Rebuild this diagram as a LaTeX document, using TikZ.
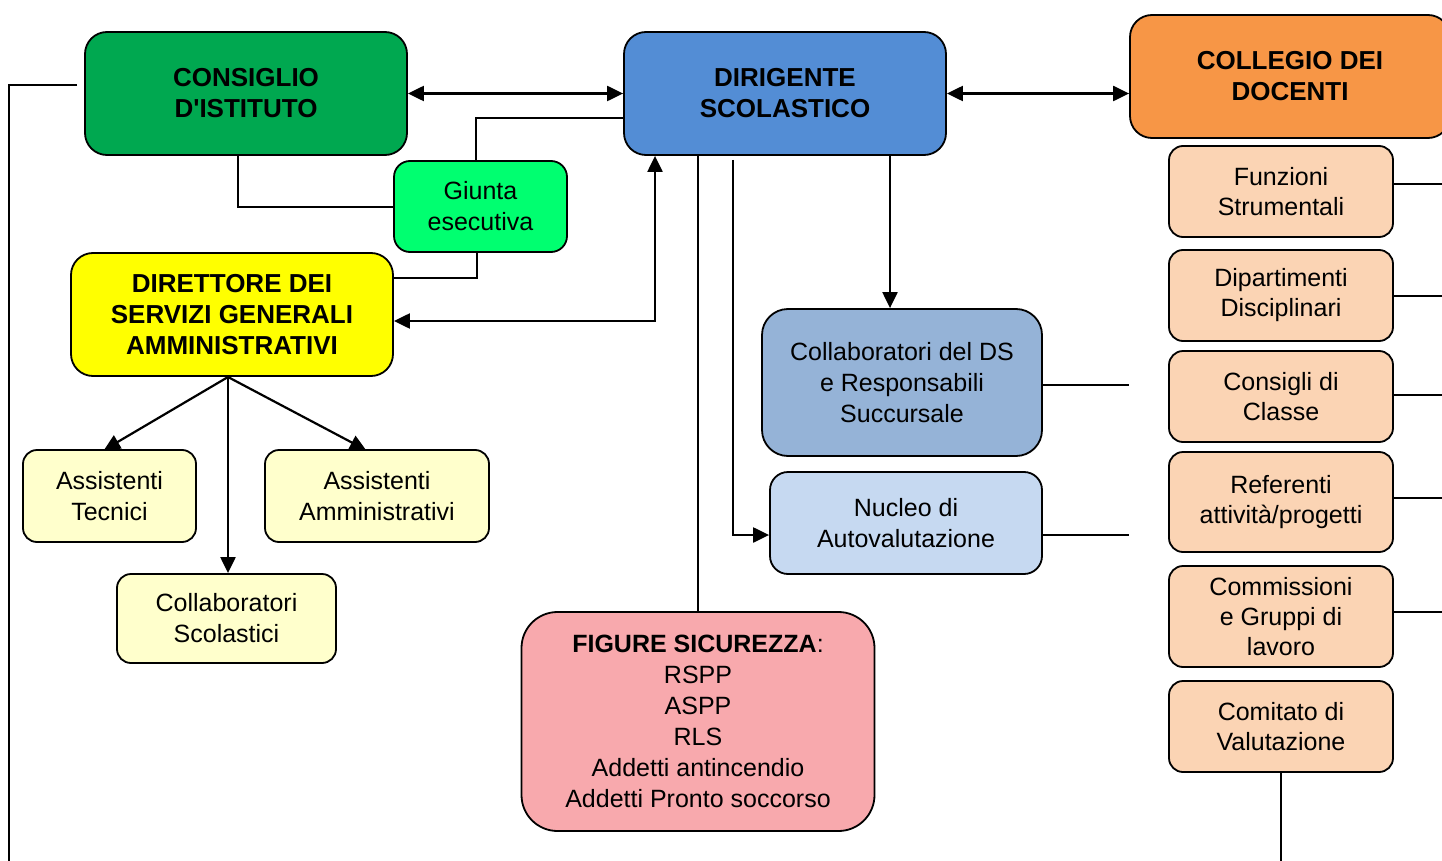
\documentclass[tikz,border=0pt]{standalone}
\usepackage{fontspec}
\newfontfamily\lib{Liberation Sans}
\usetikzlibrary{arrows.meta}
\definecolor{cgreen}{RGB}{0,168,80}
\definecolor{cblue}{RGB}{83,141,213}
\definecolor{corange}{RGB}{247,150,70}
\definecolor{cgiunta}{RGB}{0,255,112}
\definecolor{cyellow}{RGB}{255,255,0}
\definecolor{cpale}{RGB}{255,255,204}
\definecolor{cmblue}{RGB}{149,179,215}
\definecolor{clblue}{RGB}{198,217,241}
\definecolor{cpink}{RGB}{248,169,173}
\definecolor{cpeach}{RGB}{251,212,180}
\begin{document}
\begin{tikzpicture}[x=1pt,y=-1pt,
 box/.style={draw=black, line width=1.8pt, align=center, inner sep=0pt, font=\lib\fontsize{25}{31}\selectfont, execute at begin node={\rule{0pt}{26pt}}},
 title/.style={box, font=\lib\fontsize{26}{31}\selectfont\bfseries},
 peach/.style={box, fill=cpeach, minimum width=224pt, rounded corners=14pt, font=\lib\fontsize{25}{30}\selectfont},
 conn/.style={line width=2.2pt},
 thinl/.style={line width=1.8pt},
 arr/.style={conn, -{Triangle[length=16pt,width=15pt]}},
 darr/.style={conn, {Triangle[length=16pt,width=15pt]}-{Triangle[length=16pt,width=15pt]}},
]
\useasboundingbox (0,0) rectangle (1442,861);

% main boxes
\node[title, fill=cgreen, minimum width=322pt, minimum height=123pt, rounded corners=22pt] (ci) at (246,93.5) {CONSIGLIO\\D'ISTITUTO};
\node[title, fill=cblue, minimum width=322pt, minimum height=123pt, rounded corners=22pt] (ds) at (785,93.5) {DIRIGENTE\\SCOLASTICO};
\node[title, fill=corange, minimum width=320pt, minimum height=123pt, rounded corners=22pt] (col) at (1290,76.5) {COLLEGIO DEI\\DOCENTI};
\node[box, fill=cgiunta, minimum width=173pt, minimum height=91pt, rounded corners=16pt] (gi) at (480.5,206.5) {Giunta\\esecutiva};
\node[title, fill=cyellow, minimum width=322pt, minimum height=123pt, rounded corners=22pt] (dsga) at (232,314.5) {DIRETTORE DEI\\SERVIZI GENERALI\\AMMINISTRATIVI};

% DSGA children
\node[box, fill=cpale, minimum width=173pt, minimum height=92pt, rounded corners=14pt] (tec) at (109.5,496) {Assistenti\\Tecnici};
\node[box, fill=cpale, minimum width=224pt, minimum height=92pt, rounded corners=14pt] (amm) at (377,496) {Assistenti\\Amministrativi};
\node[box, fill=cpale, minimum width=219pt, minimum height=89pt, rounded corners=14pt] (cs) at (226.5,618.5) {Collaboratori\\Scolastici};

% DS children
\node[box, fill=cmblue, minimum width=280pt, minimum height=147pt, rounded corners=26pt] (cds) at (902,382.5) {Collaboratori del DS\\e Responsabili\\Succursale};
\node[box, fill=clblue, minimum width=272pt, minimum height=102pt, rounded corners=18pt] (nuc) at (906,523) {Nucleo di\\Autovalutazione};
\node[box, fill=cpink, minimum width=353pt, minimum height=219pt, rounded corners=36pt] (fig) at (698,721.5) {\textbf{FIGURE SICUREZZA}:\\RSPP\\ASPP\\RLS\\Addetti antincendio\\Addetti Pronto soccorso};

% right column
\node[peach, minimum height=91pt] (fs) at (1281,191.5) {Funzioni\\Strumentali};
\node[peach, minimum height=91pt] (dd) at (1281,295.5) {Dipartimenti\\Disciplinari};
\node[peach, minimum height=91pt] (cc) at (1281,396.5) {Consigli di\\Classe};
\node[peach, minimum height=100pt] (ra) at (1281,502) {Referenti\\attività/progetti};
\node[peach, minimum height=101pt] (cg) at (1281,616.5) {Commissioni\\e Gruppi di\\lavoro};
\node[peach, minimum height=91pt] (cv) at (1281,726.5) {Comitato di\\Valutazione};

% coordinates
\coordinate (j1) at (476,118);
\coordinate (j2) at (238,207);
\coordinate (j3) at (477,278);
\coordinate (j4) at (655,321);
\coordinate (j6) at (733,160);
\coordinate (j7) at (733,535);
\coordinate (j8) at (890,0);
\coordinate (e1) at (1129,385);
\coordinate (e2) at (1129,535);
\coordinate (r1) at (1442,184);
\coordinate (r2) at (1442,296);
\coordinate (r3) at (1442,395);
\coordinate (r4) at (1442,498);
\coordinate (r5) at (1442,612);
\coordinate (r6) at (1281,861);
\coordinate (l1) at (77,85);
\coordinate (l2) at (9,861);
\coordinate (o) at (228,377);
\coordinate (t1) at (104,450);
\coordinate (t2) at (366,450);

% connectors
\draw[darr] (ci.east) -- (ds.west);
\draw[darr] (ds.east) -- (ds.east -| col.west);
\draw[conn] (ds.west |- j1) -- (j1) -- (j1 |- gi.north);
\draw[conn] (j2 |- ci.south) -- (j2) -- (gi.west |- j2);
\draw[conn] (j3 |- gi.south) -- (j3) -- (dsga.east |- j3);
\draw[darr] (dsga.east |- j4) -- (j4) -- (j4 |- ds.south);
\draw[conn] (ds.south -| fig.north) -- (fig.north);
\draw[arr] (j6) -- (j7) -- (nuc.west |- j7);
\draw[arr] (ds.south -| j8) -- (cds.north -| j8);
\draw[thinl] (cds.east |- e1) -- (e1);
\draw[thinl] (nuc.east |- e2) -- (e2);
\draw[thinl] (fs.east |- r1) -- (r1);
\draw[thinl] (dd.east |- r2) -- (r2);
\draw[thinl] (cc.east |- r3) -- (r3);
\draw[thinl] (ra.east |- r4) -- (r4);
\draw[thinl] (cg.east |- r5) -- (r5);
\draw[thinl] (cv.south) -- (r6);
\draw[thinl] (l1) -- (l1 -| l2) -- (l2);
\draw[arr] (o) -- (t1);
\draw[arr] (o) -- (t2);
\draw[arr] (o) -- (o |- cs.north);
\end{tikzpicture}
\end{document}
